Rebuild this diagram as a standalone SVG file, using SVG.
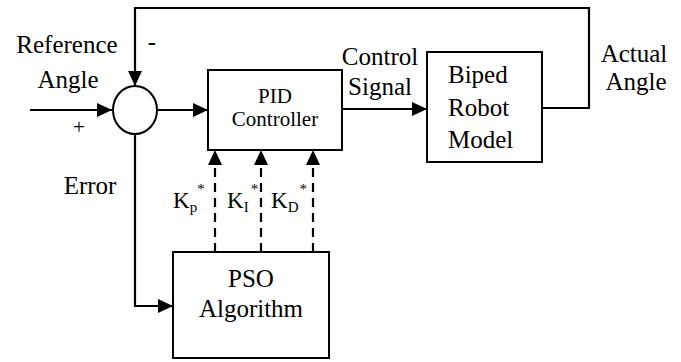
<svg xmlns="http://www.w3.org/2000/svg" width="681" height="362" viewBox="0 0 681 362">
<style>
.box{fill:#fff;stroke:#000;stroke-width:2}
.ln{fill:none;stroke:#000;stroke-width:2.2}
.dash{fill:none;stroke:#000;stroke-width:2.2;stroke-dasharray:9,6}
text{font-family:'Liberation Serif', 'Times New Roman', serif;fill:#000}
.t{font-size:25px}
.s{font-size:21px}
.k{font-size:23px}
.sub{font-size:15px}
</style>
<defs>
<marker id="ah" markerUnits="userSpaceOnUse" markerWidth="16" markerHeight="14" refX="15" refY="7" orient="auto">
<path d="M0,0 L15,7 L0,14 Z" fill="#000"/>
</marker>
</defs>
<g id="connectors">
<path class="ln" d="M30,110 H112" marker-end="url(#ah)"/>
<path class="ln" d="M157,110 H208" marker-end="url(#ah)"/>
<path class="ln" d="M342,109 H427" marker-end="url(#ah)"/>
<path class="ln" d="M542,108 H589 V8 H135 V86" marker-end="url(#ah)"/>
<path class="ln" d="M135,134 V306 H173" marker-end="url(#ah)"/>
<path class="dash" d="M215,252 V150" marker-end="url(#ah)"/>
<path class="dash" d="M261,252 V150" marker-end="url(#ah)"/>
<path class="dash" d="M313,252 V150" marker-end="url(#ah)"/>
</g>
<g id="sum">
<ellipse cx="135" cy="110" rx="22" ry="24" fill="#fff" stroke="#000" stroke-width="2"/>
</g>
<g id="pid">
<rect class="box" x="208" y="70" width="134" height="80"/>
<text class="s" x="275" y="103" text-anchor="middle">PID</text>
<text class="s" x="275" y="126" text-anchor="middle">Controller</text>
</g>
<g id="biped">
<rect class="box" x="427" y="52" width="115" height="110"/>
<text class="t" x="448" y="83">Biped</text>
<text class="t" x="448" y="116">Robot</text>
<text class="t" x="448" y="148">Model</text>
</g>
<g id="pso">
<rect class="box" x="173" y="252" width="156" height="106"/>
<text class="t" x="251" y="287" text-anchor="middle">PSO</text>
<text class="t" x="251" y="317" text-anchor="middle">Algorithm</text>
</g>
<g id="labels">
<text class="t" x="67" y="53" text-anchor="middle">Reference</text>
<text class="t" x="68" y="88" text-anchor="middle">Angle</text>
<text class="s" x="79" y="134" text-anchor="middle">+</text>
<text class="t" x="152" y="50" text-anchor="middle">-</text>
<text class="t" x="90" y="194" text-anchor="middle">Error</text>
<text class="t" x="380" y="65" text-anchor="middle">Control</text>
<text class="t" x="380" y="95" text-anchor="middle">Signal</text>
<text class="t" x="634" y="62" text-anchor="middle">Actual</text>
<text class="t" x="636" y="90" text-anchor="middle">Angle</text>
<text class="k" x="173" y="208">K<tspan class="sub" dy="4">p</tspan><tspan class="sub" dx="0" dy="-18">*</tspan></text>
<text class="k" x="227" y="208">K<tspan class="sub" dy="4">I</tspan><tspan class="sub" dx="2" dy="-18">*</tspan></text>
<text class="k" x="271" y="208">K<tspan class="sub" dy="4">D</tspan><tspan class="sub" dx="1" dy="-18">*</tspan></text>
</g>
</svg>
